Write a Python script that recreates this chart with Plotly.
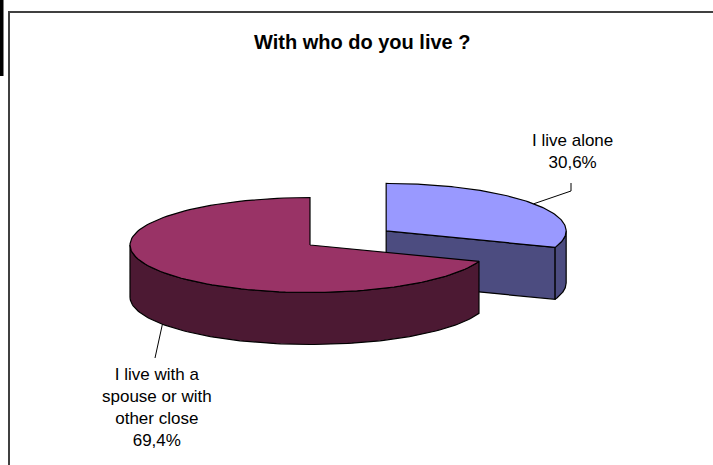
import numpy as np
import plotly.graph_objects as go

# Survey answers and their shares (percent)
categories = ["I live alone", "I live with a spouse or with other close"]
label_lines = [["I live alone"], ["I live with a", "spouse or with", "other close"]]
shares = [30.6, 69.4]

top_colors = ["#9999FF", "#993366"]
side_colors = ["#4C4C80", "#4C1933"]
explode = [0.516, 0.0]

W, H = 713, 465
CX, CY = 310.0, 245.0      # pie centre on screen
RX, RY = 180.0, 47.5       # ellipse radii of the tilted disc
DEPTH = 52.0               # thickness of the disc
START = 90.0               # first slice starts at 12 o'clock, going clockwise

label_pos = [(572, 151), (157, 407)]
leader_elbows = [[(571, 191), (571, 183)], [(155, 358)]]


def ellipse_pt(cx, cy, deg, dz=0.0):
    t = np.radians(deg)
    return cx + RX * np.cos(t), cy - RY * np.sin(t) + dz


def arc(cx, cy, d0, d1, dz=0.0, n=120):
    ts = np.linspace(d0, d1, n)
    xs = cx + RX * np.cos(np.radians(ts))
    ys = cy - RY * np.sin(np.radians(ts)) + dz
    return list(xs), list(ys)


def pct_text(v):
    return f"{v:.1f}".replace(".", ",") + "%"


slices = []
cum = 0.0
for i, v in enumerate(shares):
    a0 = START - cum * 3.6
    a1 = a0 - v * 3.6
    cum += v
    mid = (a0 + a1) / 2
    cx = CX + explode[i] * RX * np.cos(np.radians(mid))
    cy = CY - explode[i] * RY * np.sin(np.radians(mid))
    slices.append(dict(i=i, a0=a0, a1=a1, mid=mid, cx=cx, cy=cy))

fig = go.Figure()


def poly(xs, ys, fill):
    fig.add_trace(go.Scatter(
        x=xs + [xs[0]], y=ys + [ys[0]], mode="lines", fill="toself",
        fillcolor=fill, line=dict(color="black", width=1.2),
        hoverinfo="skip", showlegend=False))


# draw slices from back to front
for s in sorted(slices, key=lambda s: s["cy"]):
    i, a0, a1, cx, cy = s["i"], s["a0"], s["a1"], s["cx"], s["cy"]
    # radial cut faces that turn towards the viewer
    for edge, normal in ((a1, a1 - 90), (a0, a0 + 90)):
        if np.sin(np.radians(normal)) < -1e-6:
            rx_, ry_ = ellipse_pt(cx, cy, edge)
            poly([cx, rx_, rx_, cx], [cy, ry_, ry_ + DEPTH, cy + DEPTH], side_colors[i])
    # outer curved wall on the front half
    lo, hi = max(a1, -180.0), min(a0, 0.0)
    if hi > lo:
        tx, ty = arc(cx, cy, lo, hi)
        bx, by = arc(cx, cy, hi, lo, DEPTH)
        poly(tx + bx, ty + by, side_colors[i])
    # top face
    ax, ay = arc(cx, cy, a0, a1)
    poly([cx] + ax, [cy] + ay, top_colors[i])

# data labels with leader lines
for s in slices:
    i = s["i"]
    front = np.sin(np.radians(s["mid"])) < 0
    px, py = ellipse_pt(s["cx"], s["cy"], s["mid"], DEPTH if front else 0.0)
    pts = [(px, py)] + leader_elbows[i]
    fig.add_trace(go.Scatter(
        x=[p[0] for p in pts], y=[p[1] for p in pts], mode="lines",
        line=dict(color="black", width=1), hoverinfo="skip", showlegend=False))
    text = "<br>".join(label_lines[i] + [pct_text(shares[i])])
    fig.add_annotation(x=label_pos[i][0], y=label_pos[i][1], text=text,
                       showarrow=False, xanchor="center", yanchor="middle",
                       align="center",
                       font=dict(family="Liberation Sans, Arial", size=17, color="black"))

fig.add_annotation(x=362, y=42, text="<b>With who do you live ?</b>", showarrow=False,
                   xanchor="center", yanchor="middle",
                   font=dict(family="Liberation Sans, Arial", size=20, color="black"))

# chart frame and the dark strip at the top-left edge
fig.add_shape(type="rect", x0=9, y0=12, x1=W + 6, y1=H + 6,
              line=dict(color="#404040", width=2), layer="below")
fig.add_shape(type="rect", x0=0, y0=0, x1=3.5, y1=76,
              line=dict(width=0), fillcolor="black", layer="below")

fig.update_layout(
    width=W, height=H, margin=dict(l=0, r=0, t=0, b=0),
    paper_bgcolor="white", plot_bgcolor="white",
    xaxis=dict(range=[0, W], visible=False, fixedrange=True),
    yaxis=dict(range=[H, 0], visible=False, fixedrange=True),
)

fig.write_html("out.html")
